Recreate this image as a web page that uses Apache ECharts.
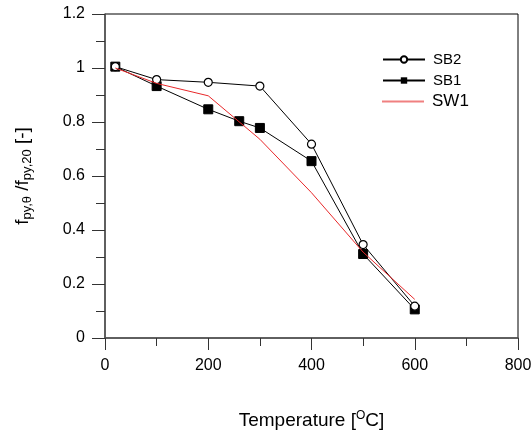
<!DOCTYPE html>
<html><head><meta charset="utf-8">
<script src="https://cdn.jsdelivr.net/npm/echarts@6/dist/echarts.min.js"></script>
<style>html,body{margin:0;padding:0;background:#fff}#c{width:532px;height:430px}</style>
</head><body><div id="c"></div>
<script>
const sb2Temp = [20, 100, 200, 300, 400, 500, 600];
const sb2Val  = [1.005, 0.957, 0.947, 0.933, 0.718, 0.346, 0.118];
const sb1Temp = [20, 100, 200, 260, 300, 400, 500, 600];
const sb1Val  = [1.005, 0.933, 0.847, 0.803, 0.778, 0.655, 0.311, 0.106];
const sw1Temp = [20, 100, 200, 300, 400, 500, 600];
const sw1Val  = [1.0, 0.943, 0.897, 0.736, 0.538, 0.318, 0.143];
const xTicks = [0, 200, 400, 600, 800];
const yTicks = [0, 0.2, 0.4, 0.6, 0.8, 1, 1.2];

const pairs = (xs, ys) => xs.map((x, i) => [x, ys[i]]);
const font = 'Liberation Sans, Arial, sans-serif';
const legendBase = { orient: 'vertical', left: 377, itemWidth: 42, itemHeight: 8 };
const chart = echarts.init(document.getElementById('c'));
chart.setOption({
  animation: false,
  grid: { left: 105, right: 14, top: 14, bottom: 92, show: true, borderColor: '#000', borderWidth: 1,
    outerBoundsMode: 'none', containLabel: false },
  legend: [
    Object.assign({}, legendBase, { top: 47, data: ['SB2'],
      textStyle: { fontFamily: font, fontSize: 15, color: '#000', padding: [0, 0, 0, 3] } }),
    Object.assign({}, legendBase, { top: 68, data: ['SB1'],
      textStyle: { fontFamily: font, fontSize: 15, color: '#000', padding: [0, 0, 0, 3] } }),
    Object.assign({}, legendBase, { top: 88, itemHeight: 2, data: [{ name: 'SW1', icon: 'rect' }],
      textStyle: { fontFamily: font, fontSize: 17, color: '#000', padding: [0, 0, 0, 3] } })
  ],
  xAxis: {
    type: 'value', min: 0, max: 800, interval: 200,
    axisLine: { show: true, lineStyle: { color: '#555', width: 1.5 } },
    axisTick: { show: true, length: 12, lineStyle: { color: '#333' } },
    minorTick: { show: true, splitNumber: 2, length: 8, lineStyle: { color: '#333' } },
    splitLine: { show: false },
    axisLabel: { fontFamily: font, fontSize: 16, color: '#000', margin: 20,
      formatter: v => xTicks.includes(v) ? String(v) : '' },
    name: '{a|Temperature [}{s|O}{a|C]}', nameLocation: 'middle', nameGap: 72,
    nameTextStyle: { rich: {
      a: { fontFamily: font, fontSize: 19, color: '#000' },
      s: { fontFamily: font, fontSize: 12, color: '#000', verticalAlign: 'top', padding: [0, 0, 9, 0] }
    } }
  },
  yAxis: {
    type: 'value', min: 0, max: 1.2, interval: 0.2,
    axisLine: { show: true, lineStyle: { color: '#555', width: 1.5 } },
    axisTick: { show: true, length: 13, lineStyle: { color: '#333' } },
    minorTick: { show: true, splitNumber: 2, length: 9, lineStyle: { color: '#333' } },
    splitLine: { show: false },
    axisLabel: { fontFamily: font, fontSize: 16, color: '#000', margin: 20,
      formatter: v => String(Math.round(v * 10) / 10) },
    name: '{a|f}{b|py,θ}{a| /f}{b|py,20}{a| [-]}', nameLocation: 'middle', nameGap: 71, nameRotate: 90,
    nameTextStyle: { rich: {
      a: { fontFamily: font, fontSize: 19, color: '#000' },
      b: { fontFamily: font, fontSize: 13, color: '#000', padding: [9, 0, 0, 0] }
    } }
  },
  series: [
    { name: 'SB2', type: 'line', data: pairs(sb2Temp, sb2Val), symbol: 'circle', symbolSize: 8,
      itemStyle: { color: '#fff', borderColor: '#000', borderWidth: 1.2 },
      lineStyle: { color: '#000', width: 1 }, z: 3 },
    { name: 'SB1', type: 'line', data: pairs(sb1Temp, sb1Val), symbol: 'rect', symbolSize: 9,
      itemStyle: { color: '#000', borderColor: '#000' },
      lineStyle: { color: '#000', width: 1 }, z: 2 },
    { name: 'SW1', type: 'line', data: pairs(sw1Temp, sw1Val), symbol: 'none', showSymbol: false,
      itemStyle: { color: '#f08080' },
      lineStyle: { color: '#e8282a', width: 1 }, z: 4 }
  ]
});
</script>
</body></html>
